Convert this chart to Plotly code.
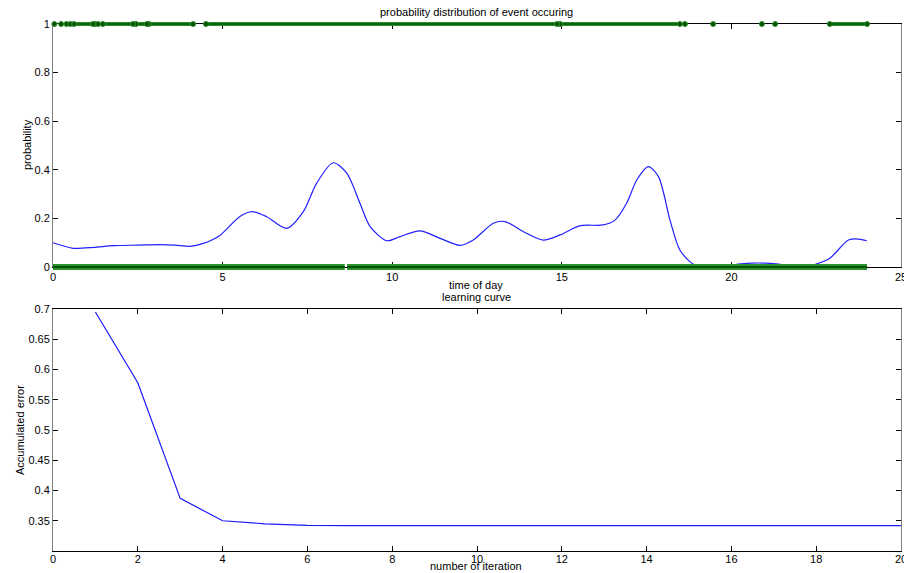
import plotly.graph_objects as go

# ---------------- data ----------------
# density curve (time of day -> probability)
kde_t = [0, 0.6, 1.2, 1.8, 2.5, 3.15, 3.6, 4.04, 4.43, 4.92, 5.5, 5.86, 6.3, 6.89, 7.38,
         7.77, 8.26, 8.66, 9.05, 9.35, 9.84, 10.23, 10.82, 11.41, 12.0, 12.39, 12.98, 13.33,
         13.87, 14.45, 14.95, 15.54, 16.22, 16.57, 16.91, 17.21, 17.55, 17.85, 18.19, 18.48,
         18.88, 19.3, 19.8, 20.2, 20.6, 21.0, 21.4, 21.8, 22.2, 22.46, 22.9, 23.45, 23.75, 23.99]
kde_p = [0.100, 0.077, 0.081, 0.088, 0.090, 0.092, 0.090, 0.085, 0.097, 0.130, 0.207, 0.228,
         0.207, 0.159, 0.228, 0.344, 0.429, 0.386, 0.262, 0.166, 0.108, 0.125, 0.149, 0.118,
         0.089, 0.111, 0.180, 0.187, 0.145, 0.111, 0.132, 0.170, 0.173, 0.193, 0.262, 0.358,
         0.413, 0.372, 0.193, 0.070, 0.011, 0.002, 0.001, 0.012, 0.016, 0.016, 0.012, 0.001,
         0.001, 0.010, 0.036, 0.111, 0.115, 0.108]

# observed events (value 1): runs of dense events and isolated events
ev1_run_start = [0.62, 1.24, 1.47, 2.45, 2.83, 4.51, 14.95, 22.90]
ev1_run_end = [1.18, 1.33, 2.36, 2.77, 4.13, 14.86, 18.48, 24.00]
ev1_single = [0.04, 0.24, 0.40, 0.51, 18.63, 19.46, 20.90, 21.29]
# observed non-events (value 0)
ev0_run_start = [0.0, 8.67]
ev0_run_end = [8.60, 24.0]

# learning curve
iteration = list(range(1, 21))
acc_error = [0.695, 0.578, 0.387, 0.350, 0.345, 0.3425, 0.342, 0.342, 0.342, 0.342,
             0.342, 0.342, 0.342, 0.342, 0.342, 0.342, 0.342, 0.342, 0.342, 0.342]

top_xticks = [0, 5, 10, 15, 20, 25]
top_yticks = [0, 0.2, 0.4, 0.6, 0.8, 1]
top_ytext = ["0", "0.2", "0.4", "0.6", "0.8", "1"]
bot_xticks = list(range(0, 21, 2))
bot_yticks = [0.35, 0.4, 0.45, 0.5, 0.55, 0.6, 0.65, 0.7]
bot_ytext = ["0.35", "0.4", "0.45", "0.5", "0.55", "0.6", "0.65", "0.7"]

# ---------------- layout geometry (pixels) ----------------
FW, FH = 904, 573
ML, MR, MT, MB = 40, 1, 8, 18
W = FW - ML - MR
H = FH - MT - MB


def fx(px):
    return (px - ML) / W


def fy(py):
    return 1 - (py - MT) / H


AX_L, AX_R = 53, 901
TOP_T, TOP_B = 24, 267
BOT_T, BOT_B = 309, 551
FONT = "Liberation Sans, Arial, Helvetica, sans-serif"

GREEN_L = "#2a922a"
GREEN_D = "#045004"


def runs_to_line(starts, ends, yval):
    xs, ys = [], []
    for a, b in zip(starts, ends):
        xs += [a, b, None]
        ys += [yval, yval, None]
    return xs, ys


fig = go.Figure()

# density curve
fig.add_trace(go.Scatter(x=kde_t, y=kde_p, mode="lines", line=dict(color="#2020ff", width=1.2, shape="spline", smoothing=0.8),
                         xaxis="x", yaxis="y", hoverinfo="skip"))

# events on hidden overlay axes so they are not clipped at y=0 / y=1
x1, y1 = runs_to_line(ev1_run_start, ev1_run_end, 1)
x0, y0 = runs_to_line(ev0_run_start, ev0_run_end, 0)
for xs, ys, wl, wd in [(x0, y0, 6, 2.2), (x1, y1, 4, 1.5)]:
    fig.add_trace(go.Scatter(x=xs, y=ys, mode="lines", line=dict(color=GREEN_L, width=wl),
                             xaxis="x3", yaxis="y3", hoverinfo="skip"))
    fig.add_trace(go.Scatter(x=xs, y=ys, mode="lines", line=dict(color=GREEN_D, width=wd),
                             xaxis="x3", yaxis="y3", hoverinfo="skip"))
fig.add_trace(go.Scatter(x=ev1_single + ev1_run_start + ev1_run_end,
                         y=[1] * (len(ev1_single) + 2 * len(ev1_run_start)),
                         mode="markers", marker=dict(color=GREEN_D, size=5, line=dict(color=GREEN_L, width=1)),
                         xaxis="x3", yaxis="y3", hoverinfo="skip"))

# learning curve
fig.add_trace(go.Scatter(x=iteration, y=acc_error, mode="lines", line=dict(color="#1a1aff", width=1.2),
                         xaxis="x2", yaxis="y2", hoverinfo="skip"))

axis_common = dict(showgrid=False, zeroline=False, showline=True, mirror="ticks", ticks="inside",
                   ticklen=5, tickcolor="black", tickfont=dict(family=FONT, size=11, color="black"),
                   automargin=False, fixedrange=True, ticklabeloverflow="allow")

xu = 25 / (AX_R - AX_L)
yu = 1 / (TOP_B - TOP_T)
HX_L, HX_R = ML, FW - MR
HY_T, HY_B = 12, 279

fig.update_layout(
    width=FW, height=FH,
    margin=dict(l=ML, r=MR, t=MT, b=MB),
    paper_bgcolor="white", plot_bgcolor="rgba(0,0,0,0)",
    showlegend=False,
    xaxis=dict(domain=[fx(AX_L), fx(AX_R)], range=[0, 25], tickvals=top_xticks, anchor="y",
               linecolor="black", linewidth=1, **axis_common),
    yaxis=dict(domain=[fy(TOP_B), fy(TOP_T)], range=[0, 1], tickvals=top_yticks, ticktext=top_ytext,
               anchor="x", linecolor="#808080", linewidth=1, **axis_common),
    xaxis2=dict(domain=[fx(AX_L), fx(AX_R)], range=[0, 20], tickvals=bot_xticks, anchor="y2",
                linecolor="black", linewidth=1, ticklabelstandoff=-2, **axis_common),
    yaxis2=dict(domain=[fy(BOT_B), fy(BOT_T)], range=[0.3, 0.7], tickvals=bot_yticks, ticktext=bot_ytext,
                anchor="x2", linecolor="#808080", linewidth=1, **axis_common),
    xaxis3=dict(domain=[fx(HX_L), fx(HX_R)], range=[-(AX_L - HX_L) * xu, 25 + (HX_R - AX_R) * xu],
                visible=False, anchor="y3", fixedrange=True),
    yaxis3=dict(domain=[fy(HY_B), fy(HY_T)], range=[-(HY_B - TOP_B) * yu, 1 + (TOP_T - HY_T) * yu],
                visible=False, anchor="x3", fixedrange=True),
)


def ann(text, px, py, size=11, angle=0):
    fig.add_annotation(text=text, x=fx(px), y=fy(py), xref="paper", yref="paper", showarrow=False,
                       textangle=angle, xanchor="center", yanchor="middle",
                       font=dict(family=FONT, size=size, color="black"))


ann("probability distribution of event occuring", 476, 12)
ann("time of day", 476, 285)
ann("learning curve", 476, 297)
ann("number of iteration", 476, 566)
ann("probability", 27, 145, angle=-90)
ann("Accumulated error", 20, 430, angle=-90)

fig.write_html("out.html", config={"displayModeBar": False},
               post_script="document.body.style.margin='0';document.body.style.overflow='hidden';")
